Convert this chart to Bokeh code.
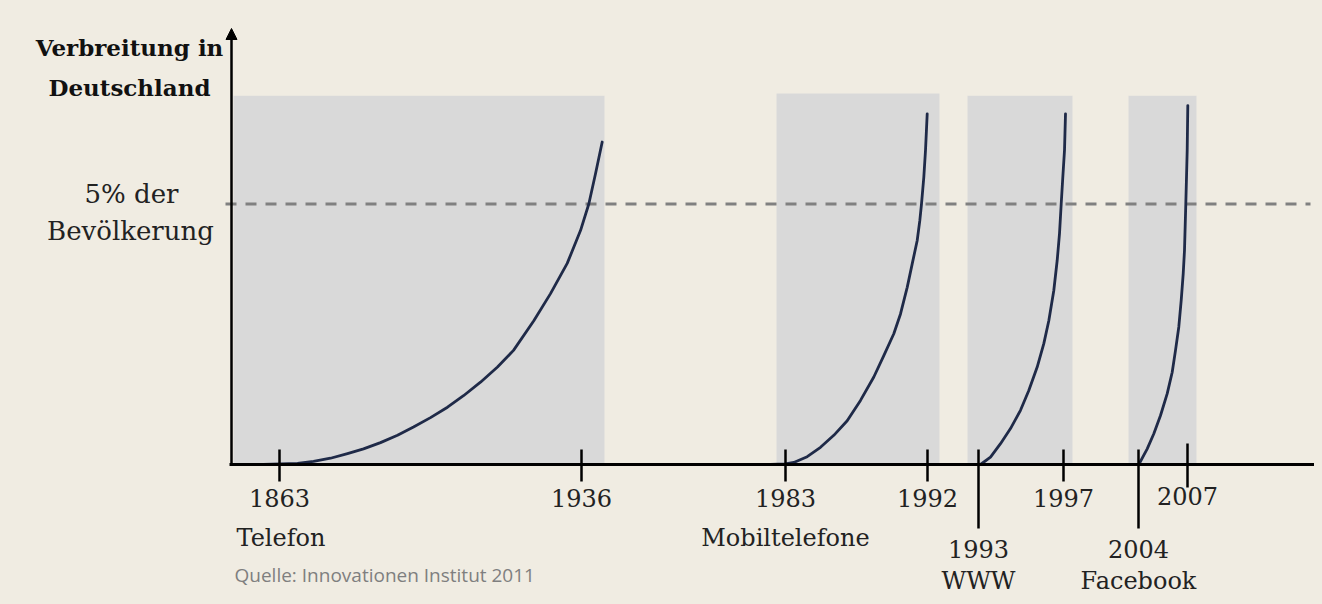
from bokeh.plotting import figure
from bokeh.models import Range1d, Arrow, NormalHead
from bokeh.core.properties import value
from bokeh.embed import file_html
from bokeh.resources import INLINE

# ---------------- data ----------------
years = ["1863", "1936", "1983", "1992", "1993", "1997", "2004", "2007"]
tick_pos = [48, 350, 554, 696, 747, 832, 907, 956]      # schematic timeline position of each year
innovations = ["Telefon", "Mobiltelefone", "WWW", "Facebook"]
innovation_year = ["1863", "1983", "1993", "2004"]

period_start = [2, 545, 736, 897]
period_end = [373, 708, 841, 965]
period_top = [7.08, 7.12, 7.08, 7.08]

threshold = 5.0   # "5% der Bevölkerung"

tel_x = [32, 49, 66, 82, 99, 116, 132, 149, 166, 182, 199, 216, 232, 249, 266, 282, 302.3,
         319, 335.7, 349, 357.3, 364, 370.7]
tel_y = [0.0, 0.01, 0.02, 0.06, 0.12, 0.21, 0.30, 0.42, 0.56, 0.72, 0.90, 1.10, 1.32, 1.58,
         1.87, 2.19, 2.76, 3.28, 3.86, 4.49, 5.00, 5.58, 6.19]
mob_x = [539, 554, 562.3, 575.7, 589, 602.3, 615.7, 629, 642.3, 652.3, 662.3, 669, 675.7,
         680.7, 685.7, 688.3, 690, 692.3, 694, 695.7]
mob_y = [0.0, 0.01, 0.04, 0.15, 0.33, 0.56, 0.84, 1.23, 1.68, 2.09, 2.51, 2.89, 3.40, 3.85,
         4.30, 4.68, 5.00, 5.51, 6.03, 6.73]
www_x = [749, 759, 769, 779, 789, 797.3, 805.7, 812.3, 817.3, 822.3, 825.7, 828, 829.7,
         831.3, 833, 834]
www_y = [0.0, 0.14, 0.40, 0.69, 1.04, 1.42, 1.87, 2.32, 2.76, 3.34, 3.92, 4.43, 5.00, 5.51,
         6.03, 6.73]
fb_x = [907.3, 915.7, 922.3, 929, 935.7, 940.7, 944, 947.3, 949.7, 951.7, 953, 954.3, 955,
        955.7, 956.3]
fb_y = [0.0, 0.30, 0.59, 0.94, 1.36, 1.77, 2.19, 2.64, 3.15, 3.66, 4.11, 5.00, 5.51, 6.03, 6.89]

# ---------------- styling ----------------
BG = "#f0ece2"
SHADE = "#d9d9d9"
CURVE = "#1f2a48"
TXT = "#222222"
SERIF = value("DejaVu Serif")

W, H = 1314, 596
PX = 52.1                       # screen pixels per y unit
X0 = -231
X1 = X0 + W
YTOP = 464 / PX
YBOT = YTOP - H / PX


def dy(px):
    """vertical screen offset (px, positive = up) in data units"""
    return px / PX


p = figure(width=W, height=H, x_range=Range1d(X0, X1), y_range=Range1d(YBOT, YTOP),
           output_backend="svg", toolbar_location=None, min_border=0,
           x_axis_type=None, y_axis_type=None,
           background_fill_color=BG, border_fill_color=BG, outline_line_color=None)
p.grid.visible = False

# shaded periods
p.quad(left=period_start, right=period_end, bottom=[0] * 4, top=period_top,
       fill_color=SHADE, line_color=None)

# threshold line
p.segment(x0=[-6], x1=[1079], y0=[threshold], y1=[threshold],
          line_color="#808080", line_width=3, line_dash="11 9")

# diffusion curves
for cx, cy in [(tel_x, tel_y), (mob_x, mob_y), (www_x, www_y), (fb_x, fb_y)]:
    p.line(cx, cy, line_color=CURVE, line_width=2.8, line_cap="round", line_join="round")

# x axis line
p.segment(x0=[-2], x1=[X1], y0=[0], y1=[0], line_color="black", line_width=3)

# ticks
up = [15, 15, 15, 15, 15, 15, 15, 21]
down = [17, 17, 17, 17, 64, 17, 64, 23]
p.segment(x0=tick_pos, x1=tick_pos, y0=[dy(u) for u in up], y1=[-dy(d) for d in down],
          line_color="black", line_width=2.5)

# y axis with arrow
p.add_layout(Arrow(x_start=0, y_start=-dy(1), x_end=0, y_end=dy(436),
                   line_color="black", line_width=2.5,
                   end=NormalHead(size=11, fill_color="black", line_color="black", line_width=1)))

# year labels
low = {"1993", "2004"}
row1_x = [x for x, yv in zip(tick_pos, years) if yv not in low]
row1_t = [yv for yv in years if yv not in low]
row1_y = [-dy(33) if yv != "2007" else -dy(31) for yv in row1_t]
p.text(x=row1_x, y=row1_y, text=row1_t, text_font=SERIF, text_font_size="24px",
       text_color=TXT, text_align="center", text_baseline="middle")
low_x = [x for x, yv in zip(tick_pos, years) if yv in low]
low_t = [yv for yv in years if yv in low]
p.text(x=low_x, y=[-dy(84)] * len(low_t), text=low_t, text_font=SERIF, text_font_size="24px",
       text_color=TXT, text_align="center", text_baseline="middle")

# innovation names
name_x = [tick_pos[years.index(y)] for y in innovation_year]
p.text(x=[name_x[0] - 43], y=[-dy(73)], text=[innovations[0]], text_font=SERIF,
       text_font_size="24px", text_color=TXT, text_align="left", text_baseline="middle")
p.text(x=[name_x[1]], y=[-dy(73)], text=[innovations[1]], text_font=SERIF,
       text_font_size="24px", text_color=TXT, text_align="center", text_baseline="middle")
p.text(x=name_x[2:], y=[-dy(116)] * 2, text=innovations[2:], text_font=SERIF,
       text_font_size="24px", text_color=TXT, text_align="center", text_baseline="middle")

# y axis title
p.text(x=[-102, -102], y=[dy(417), dy(377)], text=["Verbreitung in", "Deutschland"],
       text_font=SERIF, text_font_size="23px", text_font_style="bold", text_color="#111111",
       text_align="center", text_baseline="middle")

# threshold label
p.text(x=[-100, -101], y=[threshold + dy(10), threshold - dy(27)],
       text=["5% der", "Bevölkerung"], text_font=SERIF, text_font_size="26px",
       text_color=TXT, text_align="center", text_baseline="middle")

# source
p.text(x=[3], y=[-dy(110)], text=["Quelle: Innovationen Institut 2011"],
       text_font=value("Open Sans"), text_font_size="19px", text_color="#7f7f7f",
       text_align="left", text_baseline="middle")

html = file_html(p, INLINE, title="Verbreitung in Deutschland")
html = html.replace("<head>", "<head><style>body{background:#f0ece2;}</style>", 1)
open("out.html", "w").write(html)
